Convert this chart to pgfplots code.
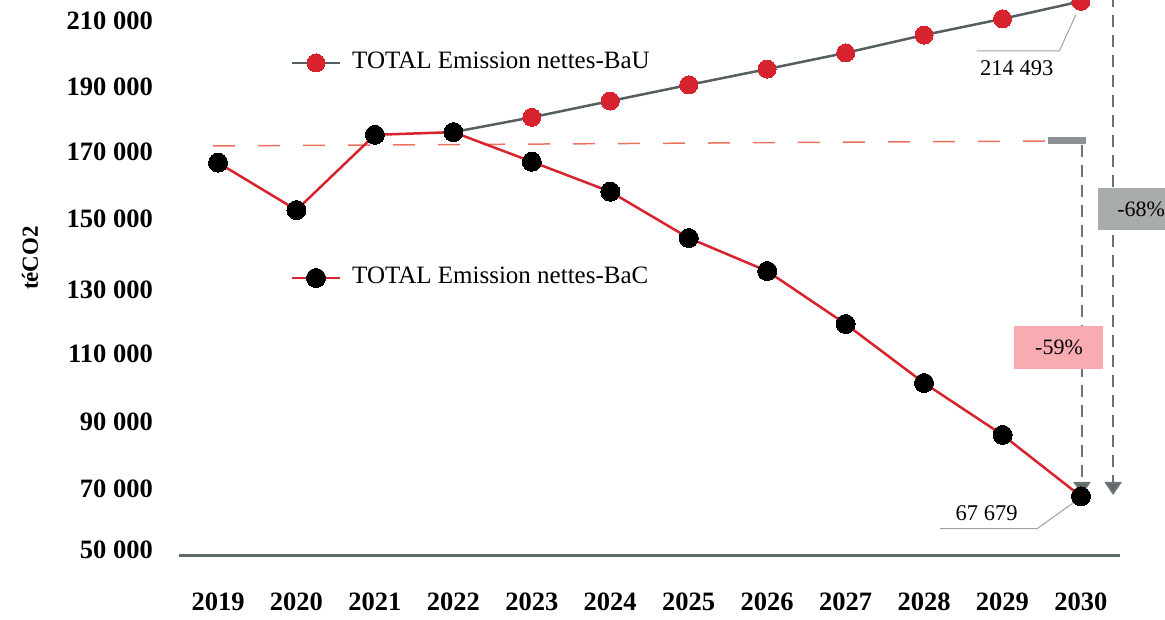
\documentclass[border=0pt]{standalone}
\usepackage{fontspec}
\setmainfont{Liberation Serif}
\usepackage{pgfplots}
\pgfplotsset{compat=1.18}
\usetikzlibrary{arrows.meta}
\definecolor{axisgray}{RGB}{95,105,105}
\definecolor{bauline}{RGB}{85,95,95}
\definecolor{redc}{RGB}{214,35,45}
\definecolor{trendc}{RGB}{235,115,95}
\definecolor{segc}{RGB}{140,146,148}
\definecolor{arrowc}{RGB}{105,115,115}
\definecolor{box68}{RGB}{168,172,173}
\definecolor{box59}{RGB}{248,172,178}
\definecolor{leadc}{RGB}{160,160,160}
\newcommand\sh[2]{\raisebox{#1}[17.9pt][0pt]{#2}}
\begin{document}
\begin{tikzpicture}
\begin{axis}[
  scale only axis, width=941.4pt, height=556pt,
  xmin=2018.5, xmax=2030.5, ymin=50000, ymax=214887,
  clip=false,
  axis x line=bottom, axis y line=left,
  x axis line style={draw=axisgray, line width=3pt, -},
  y axis line style={draw=none},
  major tick length=0pt,
  xtick={2019,...,2030},
  xticklabels={2019,2020,2021,2022,2023,2024,2025,2026,2027,2028,2029,2030},
  ytick={50000,70000,90000,110000,130000,150000,170000,190000,210000},
  yticklabels={\sh{6pt}{50 000},\sh{0pt}{70 000},\sh{0pt}{90 000},\sh{0pt}{110 000},\sh{-3pt}{130 000},\sh{0pt}{150 000},\sh{0pt}{170 000},\sh{-3pt}{190 000},\sh{-4pt}{210 000}},
  ticklabel style={font=\fontsize{26.5}{30}\selectfont\bfseries, inner sep=0pt},
  xticklabel style={yshift=-37pt},
  yticklabel style={xshift=-25.8pt},
]
% trend dashed line
\addplot[trendc, line width=1.5pt, dash pattern=on 22pt off 23pt] coordinates {(2018.936,171590)(2029.542,173072)};
\addplot[segc, line width=7pt] coordinates {(2029.580,173072)(2030.064,173072)};
% vertical dashed arrows
\addplot[arrowc, line width=2pt, dash pattern=on 12pt off 8pt, -{Triangle[width=17pt,length=13pt,fill=axisgray]}] coordinates {(2030.013,172000)(2030.013,68090)};
\addplot[arrowc, line width=2pt, dash pattern=on 12pt off 8pt, -{Triangle[width=17pt,length=13pt,fill=axisgray]}] coordinates {(2030.41,216500)(2030.41,68090)};
% boxes
\fill[box68] (axis cs:2030.217,146679) rectangle (axis cs:2031.326,159222);
\node[anchor=west, font=\fontsize{22}{26}\selectfont, inner sep=0pt] at (axis cs:2030.46,152906) {-68\%};
\fill[box59] (axis cs:2029.147,105546) rectangle (axis cs:2030.277,118209);
\node[font=\fontsize{22}{26}\selectfont, inner sep=0pt] at (axis cs:2029.720,111981) {-59\%};
% leader lines and value labels
\draw[leadc, line width=1pt] (axis cs:2029.933,210439) -- (axis cs:2029.724,199763) -- (axis cs:2028.671,199763);
\node[font=\fontsize{22.5}{27}\selectfont, inner sep=0pt] at (axis cs:2029.181,194722) {214 493};
\draw[leadc, line width=1pt] (axis cs:2029.899,65718) -- (axis cs:2029.440,58096) -- (axis cs:2028.203,58096);
\node[font=\fontsize{22.5}{27}\selectfont, inner sep=0pt] at (axis cs:2028.798,62752) {67 679};
% BaU
\addplot[bauline, line width=2.5pt, mark=*, mark size=9pt, mark options={draw=redc, fill=redc, line width=0pt}] coordinates {
(2022,175700)(2023,180100)(2024,184930)(2025,189700)(2026,194400)(2027,199200)(2028,204500)(2029,209300)(2030,214493)};
% BaC
\addplot[redc, line width=2.5pt, mark=*, mark size=9.5pt, mark options={draw=black, fill=black, line width=0pt}] coordinates {
(2019,166640)(2020,152600)(2021,174900)(2022,175700)(2023,166930)(2024,158040)(2025,144300)(2026,134500)(2027,118800)(2028,101300)(2029,85900)(2030,67679)};
% legend glyphs
\addplot[bauline, line width=2.5pt, mark=*, mark indices={2}, mark size=9pt, mark options={draw=redc, fill=redc, line width=0pt}] coordinates {(2019.943,196204)(2020.249,196204)(2020.555,196204)};
\node[anchor=west, font=\fontsize{25}{30}\selectfont, inner sep=0pt] at (axis cs:2020.708,197093) {TOTAL Emission nettes-BaU};
\addplot[redc, line width=2.5pt, mark=*, mark indices={2}, mark size=9.5pt, mark options={draw=black, fill=black, line width=0pt}] coordinates {(2019.943,132444)(2020.249,132444)(2020.555,132444)};
\node[anchor=west, font=\fontsize{25}{30}\selectfont, inner sep=0pt] at (axis cs:2020.708,133333) {TOTAL Emission nettes-BaC};
% y label
\node[rotate=90, font=\fontsize{23}{28}\selectfont\bfseries] at (axis cs:2016.604,138375) {téCO2};
\end{axis}
\pgfresetboundingbox
\path (-178.8pt,-64pt) rectangle (986.2pt,556pt);
\end{tikzpicture}
\end{document}
